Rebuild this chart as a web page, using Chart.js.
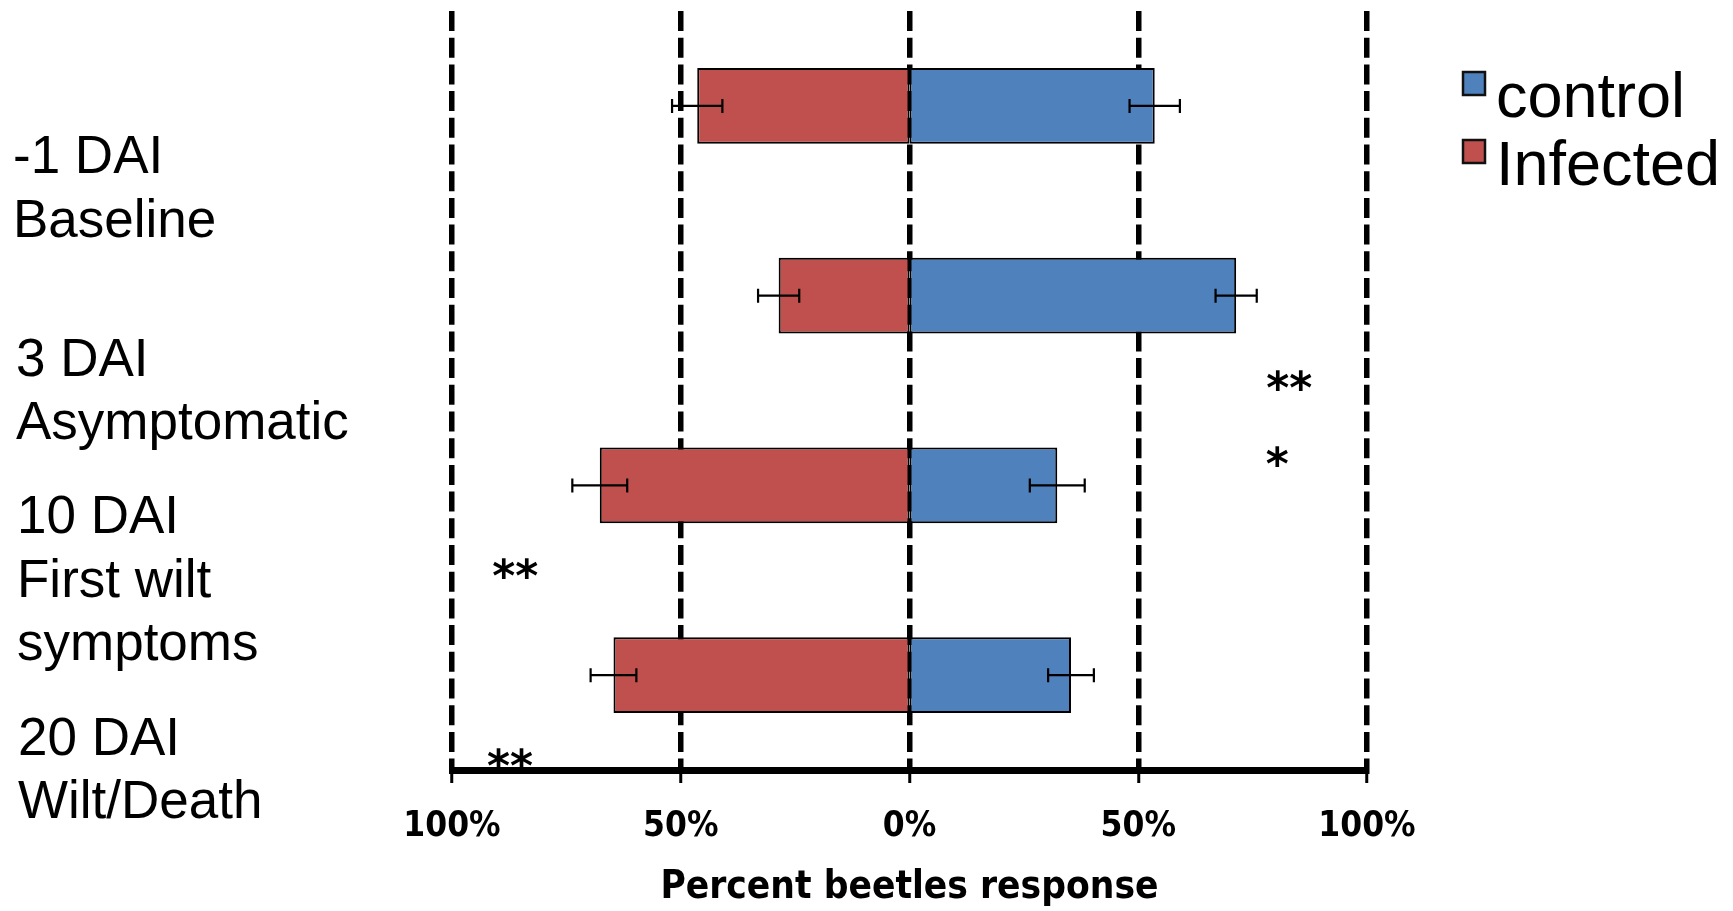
<!DOCTYPE html>
<html>
<head>
<meta charset="utf-8">
<script src="https://cdn.jsdelivr.net/npm/chart.js@4.4.1/dist/chart.umd.min.js"></script>
<style>
  html, body { margin: 0; padding: 0; background: #ffffff; }
  #wrap { width: 1733px; height: 911px; }
</style>
</head>
<body>
<div id="wrap"><canvas id="chart" width="1733" height="911"></canvas></div>
<script>
// ---------------- data ----------------
const categories = [
  ["-1 DAI", "Baseline"],
  ["3 DAI", "Asymptomatic"],
  ["10 DAI", "First wilt", "symptoms"],
  ["20 DAI", "Wilt/Death"]
];
const seriesNames = ["control", "Infected"];
const controlValues = [53.6, 71.4, 32.3, 35.3];   // % to the right
const infectedValues = [46.4, 28.6, 67.7, 64.7];  // % to the left
const controlErr = [5.5, 4.5, 6.0, 5.0];
const infectedErr = [5.5, 4.5, 6.0, 5.0];
const tickValues = [-100, -50, 0, 50, 100];
const tickLabels = ["100%", "50%", "0%", "50%", "100%"];
const axisTitle = "Percent beetles response";
// significance marks (value along x axis, category index along y axis)
const sigText = ["**", "*", "**", "**"];
const sigX = [83, 80.4, -86.2, -87.3];
const sigY = [1.44, 1.84, 2.43, 3.43];

// ---------------- styles ----------------
const BLUE = "#4F81BD";
const RED = "#C0504D";
const condensed = "'DejaVu Sans Condensed', 'Liberation Sans Narrow', 'DejaVu Sans', sans-serif";
const labelShift = [0.423, 0.49, 0.487, 0.488];
const labelX = [13, 16, 17, 18];
// tiny base offset so bars meet exactly at the 0 line (no grid-width gap)
const BAR_BASE = -1e-9;

const extras = {
  id: "extras",
  afterDatasetsDraw(chart) {
    const ctx = chart.ctx;
    const xS = chart.scales.x, yS = chart.scales.y;
    ctx.save();
    ctx.strokeStyle = "#000";
    // error bars
    const errSets = [
      { vals: controlValues, errs: controlErr, sign: 1 },
      { vals: infectedValues, errs: infectedErr, sign: -1 }
    ];
    ctx.lineWidth = 2.2;
    errSets.forEach(s => {
      s.vals.forEach((v, i) => {
        const c = s.sign * v;
        const x1 = xS.getPixelForValue(c - s.errs[i]);
        const x2 = xS.getPixelForValue(c + s.errs[i]);
        const y = yS.getPixelForValue(i);
        ctx.beginPath();
        ctx.moveTo(x1, y); ctx.lineTo(x2, y);
        ctx.moveTo(x1, y - 7); ctx.lineTo(x1, y + 7);
        ctx.moveTo(x2, y - 7); ctx.lineTo(x2, y + 7);
        ctx.stroke();
      });
    });
    ctx.restore();
  },
  afterDraw(chart) {
    const ctx = chart.ctx;
    const xS = chart.scales.x, yS = chart.scales.y;
    const step = yS.getPixelForValue(1) - yS.getPixelForValue(0);
    ctx.save();
    // category labels
    ctx.fillStyle = "#000";
    ctx.font = "53px 'Liberation Sans', Arial, sans-serif";
    ctx.textAlign = "left";
    ctx.textBaseline = "alphabetic";
    const lh = 63.5, capH = 38;
    categories.forEach((lines, i) => {
      const cy = yS.getPixelForValue(i) + labelShift[i] * step;
      const first = cy - (lines.length - 1) * lh / 2 + capH / 2;
      lines.forEach((t, k) => ctx.fillText(t, labelX[i], first + k * lh));
    });
    // significance marks
    ctx.font = "bold 44px 'DejaVu Sans', sans-serif";
    ctx.textAlign = "center";
    sigText.forEach((t, i) => {
      ctx.fillText(t, xS.getPixelForValue(sigX[i]), yS.getPixelForValue(sigY[i]) + 24);
    });
    // legend
    const ds = chart.data.datasets;
    ctx.font = "63px 'Liberation Sans', Arial, sans-serif";
    ctx.textAlign = "left";
    [ds[0], ds[1]].forEach((d, k) => {
      const top = 72 + k * 68;
      ctx.fillStyle = d.backgroundColor;
      ctx.fillRect(1463, top, 22, 23);
      ctx.strokeStyle = "#111";
      ctx.lineWidth = 2.5;
      ctx.strokeRect(1463, top, 22, 23);
      ctx.fillStyle = "#000";
      ctx.fillText(d.label, 1496, top + 45);
    });
    ctx.restore();
  }
};

new Chart(document.getElementById("chart"), {
  type: "bar",
  data: {
    labels: categories,
    datasets: [
      {
        label: seriesNames[0],
        data: controlValues,
        base: BAR_BASE,
        backgroundColor: BLUE,
        borderColor: "#000",
        borderWidth: 2,
        borderSkipped: false,
        categoryPercentage: 1,
        barPercentage: 0.4
      },
      {
        label: seriesNames[1],
        data: infectedValues.map(v => -v),
        base: BAR_BASE,
        backgroundColor: RED,
        borderColor: "#000",
        borderWidth: 2,
        borderSkipped: false,
        categoryPercentage: 1,
        barPercentage: 0.4
      }
    ]
  },
  options: {
    responsive: false,
    animation: false,
    indexAxis: "y",
    layout: { padding: { left: 452, right: 366, top: 11, bottom: 0 } },
    plugins: { legend: { display: false }, tooltip: { enabled: false } },
    scales: {
      x: {
        type: "linear",
        min: -100,
        max: 100,
        stacked: true,
        afterBuildTicks: s => { s.ticks = tickValues.map(v => ({ value: v })); },
        afterFit: s => { s.height = 141; },
        ticks: {
          autoSkip: false,
          maxRotation: 0,
          padding: 23,
          color: "#000",
          font: { family: condensed, size: 35, weight: "bold" },
          callback: (v) => tickLabels[tickValues.indexOf(v)]
        },
        grid: {
          color: "#000",
          lineWidth: 5.5,
          drawTicks: true,
          tickLength: 13,
          tickWidth: 3,
          tickColor: "#000",
          tickBorderDash: []
        },
        border: { display: true, color: "#000", width: 7, dash: [20, 6.7] },
        title: {
          display: true,
          text: axisTitle,
          color: "#000",
          padding: { top: 0, bottom: 0 },
          font: { family: condensed, size: 38.5, weight: "bold" }
        }
      },
      y: { type: "category", stacked: true, display: false }
    }
  },
  plugins: [extras]
});
</script>
</body>
</html>
